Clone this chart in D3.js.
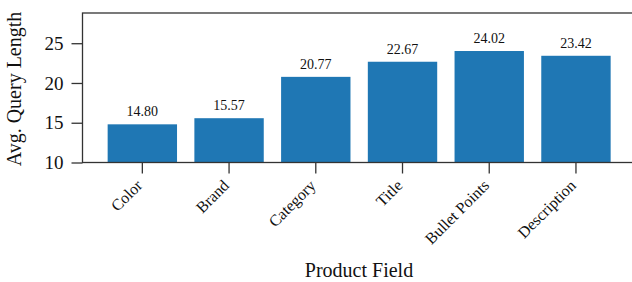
<!DOCTYPE html>
<html><head><meta charset="utf-8">
<script src="https://cdn.jsdelivr.net/npm/d3@7"></script>
<style>body{margin:0;background:#fff}text{font-family:"Liberation Serif","Times New Roman",serif;fill:#111}</style>
</head><body><svg id="c" width="632" height="282"></svg>
<script>
const categories = ["Color","Brand","Category","Title","Bullet Points","Description"];
const values = [14.80,15.57,20.77,22.67,24.02,23.42];
const valueLabels = ["14.80","15.57","20.77","22.67","24.02","23.42"];
const yTicks = [10,15,20,25];
const yDomain = [10,28.8];

const svg = d3.select("#c");
const L = 82.5, R = 635.8, T = 13, B = 162.5;
const x = d3.scaleBand().domain(categories).range([L,R]).paddingInner(0.2).paddingOuter(0.29);
const y = d3.scaleLinear().domain(yDomain).range([B,T]);

svg.selectAll("rect.bar").data(values).join("rect").attr("class","bar")
  .attr("x",(d,i)=>x(categories[i])).attr("width",x.bandwidth())
  .attr("y",d=>y(d)).attr("height",d=>y(yDomain[0])-y(d)).attr("fill","#1f77b4");

svg.selectAll("text.vl").data(values).join("text").attr("class","vl")
  .attr("x",(d,i)=>x(categories[i])+x.bandwidth()/2).attr("y",d=>y(d)-8)
  .attr("text-anchor","middle").attr("font-size",14).text((d,i)=>valueLabels[i]);

// frame
svg.append("rect").attr("x",L).attr("y",T).attr("width",R-L).attr("height",B-T)
  .attr("fill","none").attr("stroke","#333").attr("stroke-width",1.3);

// y axis
const ya = svg.append("g").attr("transform",`translate(${L},0)`)
  .call(d3.axisLeft(y).tickValues(yTicks).tickSize(11).tickPadding(8).tickFormat(d3.format("d")));
ya.select(".domain").remove();
ya.selectAll("line").attr("stroke","#333").attr("stroke-width",1.3);
ya.selectAll("text").attr("font-size",19).attr("font-family","Liberation Serif").attr("fill","#111");

// x axis
const xa = svg.append("g").attr("transform",`translate(0,${B})`)
  .call(d3.axisBottom(x).tickSize(11).tickSizeOuter(0));
xa.select(".domain").remove();
xa.selectAll("line").attr("stroke","#333").attr("stroke-width",1.3);
xa.selectAll("text").attr("font-size",16).attr("font-family","Liberation Serif").attr("fill","#111")
  .attr("text-anchor","end").attr("y",0).attr("dy","0.35em")
  .attr("transform","translate(-3,20) rotate(-45)");

svg.append("text").attr("x",359).attr("y",277).attr("text-anchor","middle").attr("font-size",20).text("Product Field");
svg.append("text").attr("transform","translate(21,89) rotate(-90)").attr("text-anchor","middle").attr("font-size",20).text("Avg. Query Length");
</script></body></html>
